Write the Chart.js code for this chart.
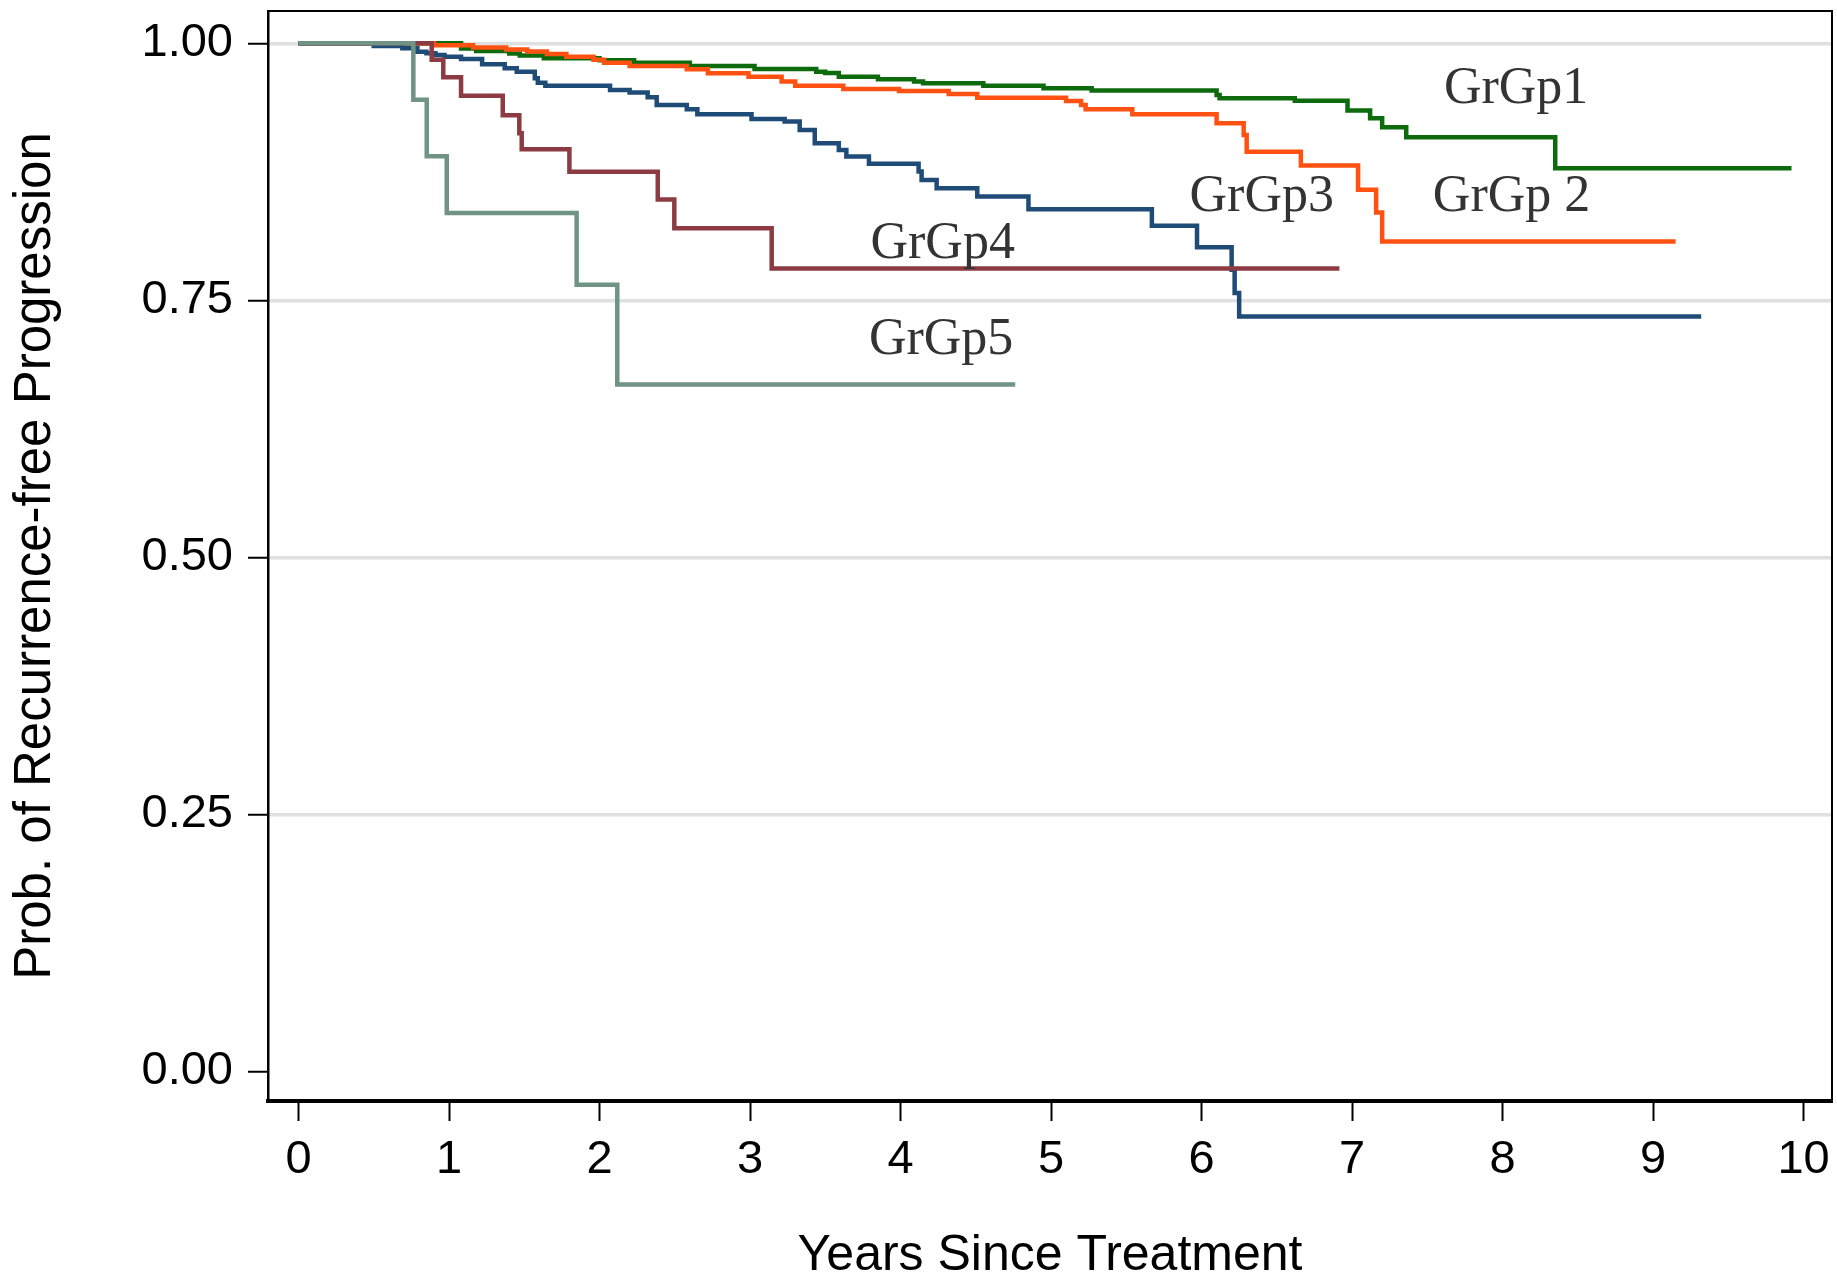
<!DOCTYPE html>
<html>
<head>
<meta charset="utf-8">
<title>Recurrence-free progression</title>
<script src="https://cdn.jsdelivr.net/npm/chart.js@4.4.1/dist/chart.umd.min.js"></script>
<style>
  html, body { margin: 0; padding: 0; background: #fff; }
  #wrap { width: 1837px; height: 1283px; }
</style>
</head>
<body>
<div id="wrap"><canvas id="kmChart" width="1837" height="1283"></canvas></div>
<script>
// Kaplan-Meier steps: time of each drop (years) and the
// survival value right after it. Last point is the end of follow-up.
const gp1Times = [0, 1.08, 1.18, 1.40, 1.47, 1.63, 2.00, 2.23, 2.60, 3.03, 3.44, 3.50, 3.59, 3.85, 4.09, 4.15, 4.55, 4.95, 5.27, 6.10, 6.12, 6.62, 6.97, 7.12, 7.20, 7.36, 8.35, 9.92];
const gp1Surv  = [1, 0.995, 0.9925, 0.990, 0.988, 0.9855, 0.9835, 0.981, 0.978, 0.975, 0.9724, 0.971, 0.9675, 0.965, 0.9627, 0.961, 0.9588, 0.9563, 0.954, 0.9497, 0.9465, 0.9442, 0.9345, 0.9271, 0.9183, 0.9086, 0.8785, 0.8785];

const gp2Times = [0, 0.90, 1.16, 1.38, 1.52, 1.65, 1.78, 1.96, 2.03, 2.20, 2.58, 2.72, 2.99, 3.21, 3.30, 3.62, 3.99, 4.32, 4.51, 5.10, 5.20, 5.23, 5.54, 6.10, 6.28, 6.30, 6.66, 7.04, 7.16, 7.20, 9.15];
const gp2Surv  = [1, 0.998, 0.996, 0.994, 0.992, 0.9896, 0.987, 0.984, 0.981, 0.978, 0.9747, 0.9708, 0.9675, 0.9627, 0.9588, 0.9556, 0.9536, 0.9507, 0.9471, 0.9439, 0.940, 0.9358, 0.931, 0.9222, 0.9109, 0.8946, 0.881, 0.8574, 0.8353, 0.8071, 0.8071];

const gp3Times = [0, 0.50, 0.69, 0.79, 0.85, 0.91, 0.97, 1.08, 1.22, 1.37, 1.45, 1.57, 1.59, 1.64, 2.07, 2.20, 2.32, 2.38, 2.58, 2.65, 3.01, 3.23, 3.33, 3.43, 3.59, 3.64, 3.79, 4.12, 4.14, 4.24, 4.51, 4.85, 5.67, 5.97, 6.20, 6.22, 6.25, 9.32];
const gp3Surv  = [1, 0.9974, 0.9951, 0.9918, 0.9902, 0.9886, 0.987, 0.9847, 0.9796, 0.9757, 0.9724, 0.966, 0.9617, 0.9588, 0.9546, 0.952, 0.9475, 0.940, 0.9358, 0.931, 0.9264, 0.9238, 0.9157, 0.9028, 0.8963, 0.8898, 0.8827, 0.8752, 0.8671, 0.859, 0.8509, 0.8386, 0.8224, 0.8017, 0.7796, 0.757, 0.7342, 0.7342];

const gp4Times = [0, 0.885, 0.962, 1.08, 1.357, 1.467, 1.483, 1.80, 2.387, 2.497, 3.144, 6.916];
const gp4Surv  = [1, 0.984, 0.967, 0.949, 0.930, 0.9125, 0.897, 0.875, 0.848, 0.820, 0.781, 0.781];

const gp5Times = [0, 0.763, 0.852, 0.985, 1.848, 2.118, 4.762];
const gp5Surv  = [1, 0.945, 0.890, 0.835, 0.765, 0.668, 0.668];

const groupNames = ["GrGp1", "GrGp 2", "GrGp3", "GrGp4", "GrGp5"];
const groupColors = ["#0d6b0d", "#ff5212", "#1f4b77", "#8d3b42", "#6f9485"];

const xTickValues = [0, 1, 2, 3, 4, 5, 6, 7, 8, 9, 10];
const yTickValues = [0, 0.25, 0.5, 0.75, 1];

// where the group names sit, in data units (label centre, baseline)
const labelSpots = [
    { text: "GrGp1",  x: 8.09, y: 0.942 },
    { text: "GrGp 2", x: 8.06, y: 0.837 },
    { text: "GrGp3",  x: 6.40, y: 0.837 },
    { text: "GrGp4",  x: 4.28, y: 0.791 },
    { text: "GrGp5",  x: 4.27, y: 0.698 },
];

const toPoints = (times, surv) => times.map((t, i) => ({ x: t, y: surv[i] }));

const seriesTimes = [gp1Times, gp2Times, gp3Times, gp4Times, gp5Times];
const seriesSurv = [gp1Surv, gp2Surv, gp3Surv, gp4Surv, gp5Surv];

const datasets = groupNames.map((name, i) => ({
    label: name,
    data: toPoints(seriesTimes[i], seriesSurv[i]),
    borderColor: groupColors[i],
    borderWidth: 4.5,
    stepped: "before",
    pointRadius: 0,
    fill: false,
    borderJoinStyle: "miter",
    borderCapStyle: "butt",
    order: 5 - i, // group 1 drawn first, group 5 on top
}));

// top and right side of the plot box
const frameBox = {
    id: "frameBox",
    beforeDatasetsDraw(chart) {
        const { ctx, chartArea } = chart;
        ctx.save();
        ctx.strokeStyle = "#000";
        ctx.lineWidth = 2;
        ctx.beginPath();
        ctx.moveTo(chartArea.left, chartArea.top);
        ctx.lineTo(chartArea.right, chartArea.top);
        ctx.lineTo(chartArea.right, chartArea.bottom);
        ctx.stroke();
        ctx.restore();
    },
};

// group names written next to the curves
const groupLabels = {
    id: "groupLabels",
    afterDatasetsDraw(chart) {
        const { ctx, scales } = chart;
        ctx.save();
        ctx.font = '52px "Liberation Serif", "Times New Roman", serif';
        ctx.fillStyle = "#333333";
        ctx.textAlign = "center";
        ctx.textBaseline = "alphabetic";
        labelSpots.forEach((spot) => {
            ctx.fillText(spot.text, scales.x.getPixelForValue(spot.x), scales.y.getPixelForValue(spot.y));
        });
        ctx.restore();
    },
};

Chart.defaults.font.family = '"Liberation Sans", Arial, sans-serif';
Chart.defaults.color = "#000";

const ctx = document.getElementById("kmChart");

const kmChart = new Chart(ctx, {
    type: "line",
    data: { datasets: datasets },
    options: {
        responsive: false,
        animation: false,
        devicePixelRatio: 1,
        layout: { padding: { top: 11, right: 5, left: 0, bottom: 0 } },
        plugins: {
            legend: { display: false },
            tooltip: { enabled: false },
        },
        scales: {
            x: {
                type: "linear",
                min: -0.2027,
                max: 10.189,
                afterBuildTicks: (scale) => {
                    scale.ticks = xTickValues.map((v) => ({ value: v }));
                },
                afterFit: (scale) => {
                    scale.height = 182;
                    scale.paddingLeft = 0;
                    scale.paddingRight = 0;
                },
                ticks: {
                    font: { size: 47 },
                    padding: 11,
                    maxRotation: 0,
                    callback: (v) => String(v),
                },
                grid: {
                    drawOnChartArea: false,
                    tickLength: 20,
                    tickColor: "#000",
                    tickWidth: 2,
                },
                border: { color: "#000", width: 4 },
                title: {
                    display: true,
                    text: "Years Since Treatment",
                    font: { size: 50, lineHeight: 1 },
                    padding: { top: 0, bottom: 2 },
                },
            },
            y: {
                type: "linear",
                min: -0.0289,
                max: 1.0314,
                afterBuildTicks: (scale) => {
                    scale.ticks = yTickValues.map((v) => ({ value: v }));
                },
                afterFit: (scale) => {
                    scale.width = 268;
                    scale.paddingTop = 0;
                    scale.paddingBottom = 0;
                },
                ticks: {
                    font: { size: 47 },
                    padding: 15,
                    callback: (v) => Number(v).toFixed(2),
                },
                grid: {
                    color: (c) => (c.tick && c.tick.value === 0 ? "rgba(0,0,0,0)" : "#e0e0e0"),
                    lineWidth: 3.5,
                    tickLength: 20,
                    tickColor: "#000",
                    tickWidth: 2,
                },
                border: { color: "#000", width: 2.5 },
                title: {
                    display: true,
                    text: "Prob. of Recurrence-free Progression",
                    font: { size: 51, lineHeight: 1 },
                    padding: { top: 10, bottom: 0 },
                },
            },
        },
    },
    plugins: [frameBox, groupLabels],
});
</script>
</body>
</html>
